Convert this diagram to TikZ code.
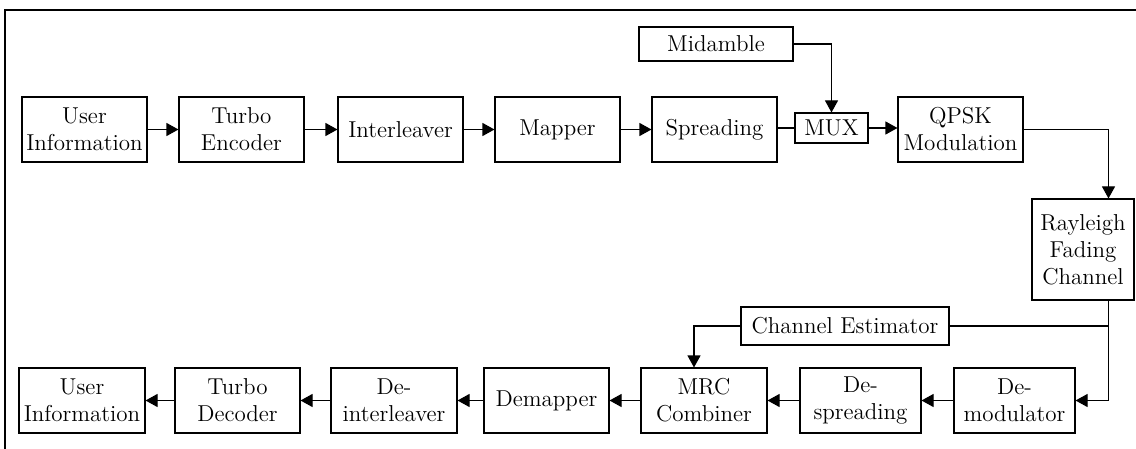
\documentclass[tikz,border=0pt]{standalone}
\usepackage{tikz}
\usetikzlibrary{
    arrows.meta,
    positioning,
    calc
}
\tikzset{
    % Lines
    line style/.style={line width=0.55pt},
    %
    % Blocks
    block/.style={draw,line style,inner sep=0pt,align=center,minimum width=62.5pt,minimum height=32.5pt},
    small block/.style={block,minimum width=#1,minimum height=17pt},
    %
    % Arrows
    arrow tip/.tip={Triangle[length=6pt,width=6.5pt]},
    arr/.style={line style,->,>={arrow tip}},
    conn/.style={line style},
}
\tikzstyle{every node}=[font=\fontsize{11.5}{13.5}\selectfont]

\begin{document}
\begin{tikzpicture}[x=0.5pt,y=-0.5pt]
        \useasboundingbox (0,0) rectangle (1136,449);
        \draw[line style] (5,449) -- (5,10) -- (1136,10);
        % transmitter
        \node[block] (src) at (84.5,129.5) {User\\Information};
        \node[block] (enc) at (241.5,129.5) {Turbo\\Encoder};
        \node[block] (intl) at (400.5,129.5) {Interleaver};
        \node[block] (map) at (557.5,129.5) {Mapper};
        \node[block] (spr) at (714.5,129.5) {Spreading};
        \node[small block=36.5pt,minimum height=15pt] (mux) at (831.5,128) {MUX};
        \node[block] (qpsk) at (960.5,129.5) {QPSK\\Modulation};
        \node[small block=77pt] (mid) at (716,44) {Midamble};
        % channel
        \node[block,minimum width=51pt,minimum height=50.5pt] (ray) at (1083,249.5) {Rayleigh\\Fading\\Channel};
        \coordinate (tap) at (1108.5,326);
        % receiver
        \node[small block=104pt,minimum height=19pt] (est) at (845,326) {Channel Estimator};
        \node[block,minimum width=60.5pt] (dem) at (1014.5,400.5) {De-\\modulator};
        \node[block,minimum width=60.5pt] (desp) at (860.5,400.5) {De-\\spreading};
        \node[block,minimum width=63pt] (mrc) at (704,400.5) {MRC\\Combiner};
        \node[block] (demap) at (546.5,400.5) {Demapper};
        \node[block,minimum width=63pt] (deint) at (394,400.5) {De-\\interleaver};
        \node[block] (dec) at (237.5,400.5) {Turbo\\Decoder};
        \node[block,minimum width=63pt] (sink) at (82,400.5) {User\\Information};

        \draw[arr] (src) -- (enc);
        \draw[arr] (enc) -- (intl);
        \draw[arr] (intl) -- (map);
        \draw[arr] (map) -- (spr);
        \draw[conn] (spr.east |- mux) -- (mux);
        \draw[arr] (mux) -- (mux -| qpsk.west);
        \draw[arr] (mid.east) -| (mux.north);
        \draw[arr] (qpsk.east) -| (ray.north -| tap);
        \draw[arr] (ray.south -| tap) |- (dem.east);
        \draw[conn] (est.east) -- (tap);
        \draw[arr] (est.west) -| ([xshift=-5pt]mrc.north);
        \draw[arr] (dem) -- (desp);
        \draw[arr] (desp) -- (mrc);
        \draw[arr] (mrc) -- (demap);
        \draw[arr] (demap) -- (deint);
        \draw[arr] (deint) -- (dec);
        \draw[arr] (dec) -- (sink);
\end{tikzpicture}
\end{document}
